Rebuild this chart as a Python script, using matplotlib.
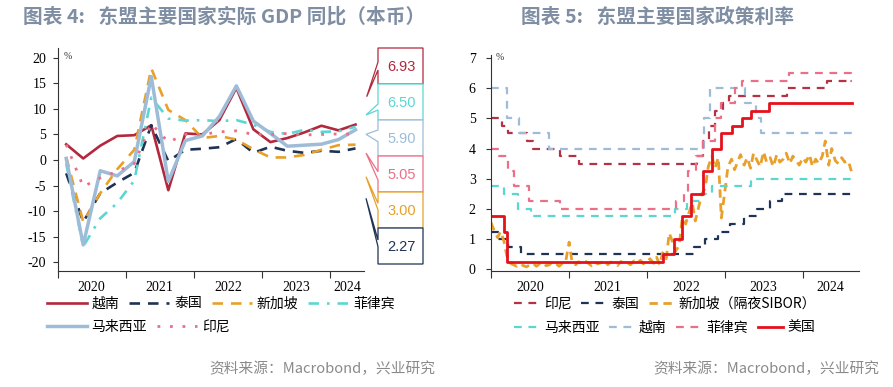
import numpy as np
import pandas as pd
import matplotlib
matplotlib.use("Agg")
import matplotlib.pyplot as plt
from matplotlib.patches import Polygon

plt.rcParams['font.family'] = ['Noto Sans CJK SC', 'DejaVu Sans']

# --- left panel: real GDP yoy, quarterly
quarters = ["2020Q1", "2020Q2", "2020Q3", "2020Q4", "2021Q1", "2021Q2", "2021Q3", "2021Q4",
            "2022Q1", "2022Q2", "2022Q3", "2022Q4", "2023Q1", "2023Q2", "2023Q3", "2023Q4",
            "2024Q1", "2024Q2"]
vietnam = [3.07, 0.30, 2.80, 4.70, 4.85, 6.80, -5.90, 5.20, 5.00, 7.80, 14.10, 6.00, 3.50, 4.30, 5.40, 6.70, 5.80, 6.93]
thailand = [-2.60, -12.10, -6.50, -4.40, -2.50, 6.80, -0.20, 2.00, 2.20, 2.50, 4.10, 1.40, 2.60, 1.80, 1.40, 1.80, 1.60, 2.27]
singapore = [0.60, -12.10, -6.50, -1.80, 2.00, 17.90, 9.80, 7.80, 4.30, 4.70, 4.00, 2.10, 0.50, 0.50, 1.00, 2.00, 2.90, 3.00]
philippines = [-0.70, -16.90, -11.40, -8.40, -4.00, 12.20, 8.10, 7.70, 7.80, 7.60, 7.80, 6.90, 5.50, 5.10, 5.90, 5.50, 5.60, 6.50]
malaysia = [0.30, -16.60, -2.10, -3.10, -0.30, 16.30, -4.20, 3.80, 4.70, 8.50, 14.50, 7.60, 5.20, 2.70, 2.90, 3.10, 4.00, 5.90]
indonesia = [3.00, -5.20, -3.50, -2.20, -0.70, 7.10, 3.50, 5.00, 5.00, 5.50, 5.70, 5.00, 5.00, 5.20, 4.90, 5.00, 5.10, 5.05]

# --- right panel: policy rates (change dates)
idn_dates = ["2020-01-01", "2020-02-20", "2020-03-19", "2020-06-18", "2020-07-16", "2020-11-19", "2021-02-18",
             "2022-08-23", "2022-09-22", "2022-10-20", "2022-11-17", "2022-12-22", "2023-01-19", "2023-10-19", "2024-04-24"]
idn_rates = [5.00, 4.75, 4.50, 4.25, 4.00, 3.75, 3.50, 3.75, 4.25, 4.75, 5.25, 5.50, 5.75, 6.00, 6.25]
tha_dates = ["2020-01-01", "2020-02-05", "2020-03-20", "2020-05-20", "2022-08-10", "2022-09-28", "2022-11-30",
             "2023-01-25", "2023-03-29", "2023-05-31", "2023-08-02", "2023-09-27"]
tha_rates = [1.25, 1.00, 0.75, 0.50, 0.75, 1.00, 1.25, 1.50, 1.75, 2.00, 2.25, 2.50]
mys_dates = ["2020-01-01", "2020-03-03", "2020-05-05", "2020-07-07", "2022-05-11", "2022-07-06", "2022-09-08",
             "2022-11-03", "2023-05-03"]
mys_rates = [2.75, 2.50, 2.00, 1.75, 2.00, 2.25, 2.50, 2.75, 3.00]
vnm_dates = ["2020-01-01", "2020-03-17", "2020-05-13", "2020-10-01", "2022-09-23", "2022-10-25", "2023-04-03",
             "2023-05-25", "2023-06-19"]
vnm_rates = [6.00, 5.00, 4.50, 4.00, 5.00, 6.00, 5.50, 5.00, 4.50]
phl_dates = ["2020-01-01", "2020-02-06", "2020-03-19", "2020-04-16", "2020-06-25", "2020-11-19", "2022-05-19",
             "2022-06-23", "2022-07-14", "2022-08-18", "2022-09-22", "2022-11-17", "2022-12-15", "2023-02-16",
             "2023-03-23", "2023-10-26", "2024-08-15"]
phl_rates = [4.00, 3.75, 3.25, 2.75, 2.25, 2.00, 2.25, 2.50, 3.25, 3.75, 4.25, 5.00, 5.50, 6.00, 6.25, 6.50, 6.25]
usa_dates = ["2020-01-01", "2020-03-03", "2020-03-16", "2022-03-17", "2022-05-05", "2022-06-16", "2022-07-28",
             "2022-09-22", "2022-11-03", "2022-12-15", "2023-02-02", "2023-03-23", "2023-05-04", "2023-07-27"]
usa_rates = [1.75, 1.25, 0.25, 0.50, 1.00, 1.75, 2.50, 3.25, 4.00, 4.50, 4.75, 5.00, 5.25, 5.50]
END_DATE = "2024-08-20"

# overnight SIBOR, 1st and 15th of each month
sibor_dates = pd.date_range("2020-01-01", periods=112, freq="SMS")
sibor = [1.55, 1.30, 1.05, 1.25, 0.95, 0.45, 0.20, 0.15, 0.10, 0.18, 0.12, 0.08,
         0.15, 0.20, 0.10, 0.18, 0.22, 0.12, 0.15, 0.25, 0.18, 0.10, 0.20, 0.22,
         0.90, 0.22, 0.15, 0.25, 0.18, 0.28, 0.20, 0.12, 0.25, 0.18, 0.22, 0.30,
         0.15, 0.24, 0.20, 0.12, 0.26, 0.18, 0.22, 0.15, 0.28, 0.20, 0.30, 0.18,
         0.25, 0.35, 0.20, 0.40, 0.15, 0.55, 0.35, 1.20, 0.90, 0.60, 0.80, 1.70,
         1.50, 1.85, 2.20, 1.60, 2.10, 2.50, 2.70, 3.40, 3.75, 3.35, 3.70, 1.70,
         2.60, 3.40, 3.65, 3.30, 3.55, 3.80, 3.45, 3.70, 3.35, 3.85, 3.60, 3.40,
         3.90, 3.55, 3.70, 3.40, 3.80, 3.55, 3.65, 3.85, 3.50, 3.75, 3.60, 3.45,
         3.70, 3.55, 3.80, 3.40, 3.65, 3.50, 3.75, 4.25, 3.45, 4.00, 3.60, 3.50,
         3.70, 3.55, 3.60, 3.25]

C_VNM = "#b3283d"
C_THA = "#1f3354"
C_SGP = "#e9a02a"
C_PHL = "#5cd6d2"
C_MYS = "#9ebcd8"
C_IDN = "#ea6f88"
C_IDN_R = "#b53246"
C_USA = "#e3121d"
TITLE_C = "#7f8ea3"
SRC_C = "#8a8a8a"
AXIS_C = "#333333"

W, H = 893, 387
def fx(px):
    return px / W
def fy(py):
    return 1 - py / H

fig = plt.figure(figsize=(W / 100, H / 100), dpi=100)

def style_axes(ax, ypad):
    ax.tick_params(axis='x', which='major', direction='out', length=5, width=0.8, color=AXIS_C)
    ax.tick_params(axis='x', which='minor', length=0, pad=7.5)
    ax.tick_params(axis='y', direction='out', length=3.5, width=0.8, pad=ypad, color=AXIS_C)
    for side in ['top', 'right']:
        ax.spines[side].set_visible(False)
    for side in ['left', 'bottom']:
        ax.spines[side].set_linewidth(0.8)
        ax.spines[side].set_color(AXIS_C)

TICK_FONT = dict(fontfamily='Liberation Serif', fontsize=10)

# ---------------- left chart
ax1 = fig.add_axes([fx(57.7), fy(271), (364 - 57.7) / W, (271 - 48) / H])
xq = np.array([int(q[:4]) + (int(q[-1]) - 1) * 0.25 + 0.125 for q in quarters])

series_l = [
    ("越南", vietnam, dict(color=C_VNM, lw=1.9, ls='-')),
    ("泰国", thailand, dict(color=C_THA, lw=1.9, ls=(0, (4, 3)))),
    ("新加坡", singapore, dict(color=C_SGP, lw=1.9, ls=(0, (4, 3)))),
    ("菲律宾", philippines, dict(color=C_PHL, lw=1.9, ls=(0, (4, 3, 1, 3)))),
    ("马来西亚", malaysia, dict(color=C_MYS, lw=2.5, ls='-')),
    ("印尼", indonesia, dict(color=C_IDN, lw=2.0, ls=(0, (1, 3.5)))),
]
handles_l = []
for name, vals, st in series_l:
    ln, = ax1.plot(xq, vals, label=name, **st)
    handles_l.append(ln)

ax1.set_xlim(2020, 2024.5)
ax1.set_ylim(-21.7, 21.9)
ax1.set_yticks(np.arange(-20, 21, 5), [str(v) for v in range(-20, 21, 5)], **TICK_FONT)
ax1.set_xticks([2020, 2021, 2022, 2023, 2024], [])
ax1.set_xticks([2020.5, 2021.5, 2022.5, 2023.5, 2024.25],
               ["2020", "2021", "2022", "2023", "2024"], minor=True, **TICK_FONT)
style_axes(ax1, 4.8)
ax1.text(0.033, 0.962, "%", transform=ax1.transAxes, fontsize=7, fontfamily='Liberation Serif',
         ha='center', va='center', color=AXIS_C)

# callout boxes with latest values
callouts = [
    (vietnam, C_VNM, 48, (366.7, 96.7), (62, 70)),
    (philippines, C_PHL, 84, (366, 115), (104, 110)),
    (malaysia, C_MYS, 120, (366, 134.3), (130, 141.7)),
    (indonesia, C_IDN, 156, (366, 153), (171.7, 180)),
    (singapore, C_SGP, 192, (366, 176.7), (203.3, 210)),
    (thailand, C_THA, 228, (366, 198.3), (240, 246.7)),
]
BL, BR, BH = 378, 423, 36
for vals, col, top, tip, att in callouts:
    bot = top + BH
    pts = [(BL, top), (BR, top), (BR, bot), (BL, bot), (BL, att[1]), tip, (BL, att[0])]
    poly = Polygon([(fx(x), fy(y)) for x, y in pts], closed=True, transform=fig.transFigure,
                   facecolor='white', edgecolor=col, lw=0.9, zorder=5)
    fig.add_artist(poly)
    fig.text(fx((BL + BR) / 2 + 1), fy(top + BH / 2 + 1), f"{vals[-1]:.2f}", color=col,
             fontsize=10.5, fontfamily='Liberation Sans', ha='center', va='center', zorder=6)

leg_kw = dict(frameon=False, fontsize=10, handlelength=2.9, handletextpad=0.35,
              columnspacing=0.7, borderpad=0, borderaxespad=0, loc='center left')
fig.legend(handles_l[:4], [h.get_label() for h in handles_l[:4]], ncol=4,
           bbox_to_anchor=(fx(46.5), fy(303.5)), **leg_kw)
fig.legend(handles_l[4:], [h.get_label() for h in handles_l[4:]], ncol=2,
           bbox_to_anchor=(fx(46.5), fy(327)), **leg_kw)

# ---------------- right chart
ax2 = fig.add_axes([fx(491), fy(270.5), (859 - 491) / W, (270.5 - 55) / H])

def step_series(dates, rates):
    d = pd.to_datetime(list(dates) + [END_DATE])
    r = list(rates) + [rates[-1]]
    return d, r

dash_r = (0, (3.5, 3))
series_r = [
    ("印尼", idn_dates, idn_rates, dict(color=C_IDN_R, lw=1.6, ls=dash_r)),
    ("泰国", tha_dates, tha_rates, dict(color=C_THA, lw=1.6, ls=dash_r)),
    ("新加坡（隔夜SIBOR）", None, None, dict(color=C_SGP, lw=2.0, ls=(0, (3, 2)))),
    ("马来西亚", mys_dates, mys_rates, dict(color=C_PHL, lw=1.6, ls=dash_r)),
    ("越南", vnm_dates, vnm_rates, dict(color=C_MYS, lw=1.6, ls=dash_r)),
    ("菲律宾", phl_dates, phl_rates, dict(color=C_IDN, lw=1.6, ls=dash_r)),
    ("美国", usa_dates, usa_rates, dict(color=C_USA, lw=2.0, ls='-')),
]
handles_r = []
for name, dts, rts, st in series_r:
    if dts is None:
        ln, = ax2.plot(sibor_dates, sibor, label=name, **st)
    else:
        d, r = step_series(dts, rts)
        ln, = ax2.plot(d, r, drawstyle='steps-post', label=name, **st)
    handles_r.append(ln)

ax2.set_xlim(pd.Timestamp("2020-01-01"), pd.Timestamp("2024-09-20"))
ax2.set_ylim(-0.04, 7.1)
ax2.set_yticks(range(0, 8), [str(v) for v in range(0, 8)], **TICK_FONT)
year_ticks = [pd.Timestamp(f"{y}-01-01") for y in range(2020, 2025)]
ax2.set_xticks(year_ticks, [])
label_pos = [pd.Timestamp("2020-07-03"), pd.Timestamp("2021-07-01"), pd.Timestamp("2022-07-02"),
             pd.Timestamp("2023-06-28"), pd.Timestamp("2024-05-10")]
ax2.set_xticks(label_pos, ["2020", "2021", "2022", "2023", "2024"], minor=True, **TICK_FONT)
style_axes(ax2, 7.5)
ax2.text(0.024, 0.99, "%", transform=ax2.transAxes, fontsize=7, fontfamily='Liberation Serif',
         ha='center', va='center', color=AXIS_C)

leg_kw_r = dict(leg_kw, handlelength=1.8)
fig.legend(handles_r[:3], [h.get_label() for h in handles_r[:3]], ncol=3,
           bbox_to_anchor=(fx(514), fy(304)), **leg_kw_r)
fig.legend(handles_r[3:], [h.get_label() for h in handles_r[3:]], ncol=4,
           bbox_to_anchor=(fx(514), fy(327.5)), **leg_kw_r)

# ---------------- titles and sources
fig.text(fx(23), fy(17), "图表 4:   东盟主要国家实际 GDP 同比（本币）", fontsize=14.2,
         fontweight='bold', color=TITLE_C, ha='left', va='center')
fig.text(fx(521), fy(17), "图表 5:   东盟主要国家政策利率", fontsize=14.2,
         fontweight='bold', color=TITLE_C, ha='left', va='center')
fig.text(fx(435), fy(369), "资料来源：Macrobond，兴业研究", fontsize=10.6, color=SRC_C,
         ha='right', va='center')
fig.text(fx(879), fy(369), "资料来源：Macrobond，兴业研究", fontsize=10.6, color=SRC_C,
         ha='right', va='center')

fig.savefig("out.png", dpi=100)
